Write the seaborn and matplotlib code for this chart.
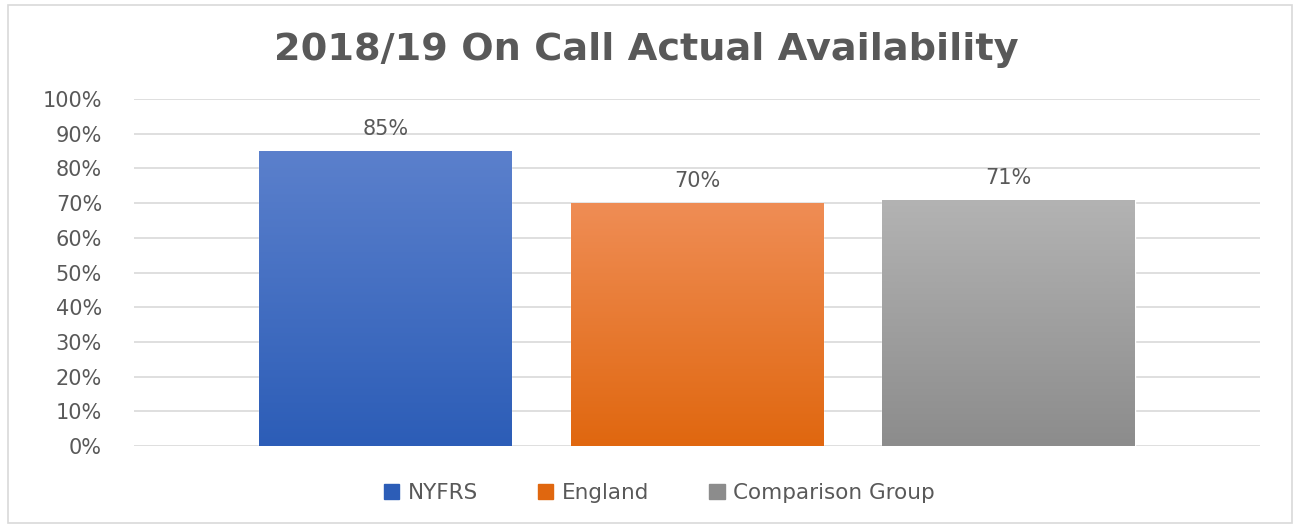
import numpy as np
import pandas as pd
import matplotlib.pyplot as plt
import matplotlib.colors as mcolors
from matplotlib.patches import Rectangle
from matplotlib.ticker import PercentFormatter
import seaborn as sns

# datos
groups = ["NYFRS", "England", "Comparison Group"]
availability = [85, 70, 71]
top_colors = ["#5b80cc", "#ef8d55", "#b3b3b3"]
bottom_colors = ["#2c5db7", "#e0670f", "#8c8c8c"]
title = "2018/19 On Call Actual Availability"

df = pd.DataFrame({"group": groups, "value": availability})

sns.set_style("white")
plt.rcParams["font.family"] = ["DejaVu Sans"]
text_col = "#595959"

fig = plt.figure(figsize=(12.93, 5.27), dpi=100)
ax = fig.add_axes([0.1036, 0.1537, 0.8709, 0.6584])

sns.barplot(data=df, x="group", y="value", hue="group", palette=bottom_colors,
            width=0.81, ax=ax, legend=False, saturation=1)

# degradado en cada barra
for patch, c_top, c_bot in zip(ax.patches, top_colors, bottom_colors):
    x0, y0 = patch.get_x(), patch.get_y()
    w, h = patch.get_width(), patch.get_height()
    cmap = mcolors.LinearSegmentedColormap.from_list("g", [c_bot, c_top])
    grad = np.linspace(0, 1, 256).reshape(-1, 1)
    im = ax.imshow(grad, extent=(x0, x0 + w, y0, y0 + h), origin="lower",
                   cmap=cmap, aspect="auto", zorder=3)
    im.set_clip_path(patch)
    patch.set_zorder(2)

for patch, v in zip(ax.patches, availability):
    ax.text(patch.get_x() + patch.get_width() / 2, v + 6.3, f"{v}%",
            ha="center", va="center", fontsize=15, color=text_col)

ax.set_xlim(-0.806, 2.806)
ax.set_ylim(0, 100)
ax.set_yticks(range(0, 101, 10))
ax.yaxis.set_major_formatter(PercentFormatter(decimals=0))
ax.tick_params(axis="y", labelsize=15, labelcolor=text_col, length=0, pad=23)
ax.set_xticks([])
ax.set_xlabel("")
ax.set_ylabel("")
ax.grid(axis="y", color="#d9d9d9", linewidth=1.2, zorder=0)
ax.set_axisbelow(True)
for s in ax.spines.values():
    s.set_visible(False)

fig.text(0.5, 0.905, title, ha="center", va="center", fontsize=27.5,
         fontweight="bold", color=text_col)

# leyenda
handles = [Rectangle((0, 0), 1, 1, color=c) for c in bottom_colors]
fig.legend(handles, groups, loc="center", bbox_to_anchor=(0.51, 0.065), ncol=3,
           frameon=False, fontsize=15.5, labelcolor=text_col, handlelength=0.7,
           handleheight=0.7, handletextpad=0.4, columnspacing=2.8)

# borde del gráfico
fig.patches.append(Rectangle((8 / 1293, 1 - 523 / 527), 1284 / 1293, 518 / 527,
                             transform=fig.transFigure, fill=False,
                             edgecolor="#d9d9d9", linewidth=1.2))

fig.savefig("out.png", dpi=100)
